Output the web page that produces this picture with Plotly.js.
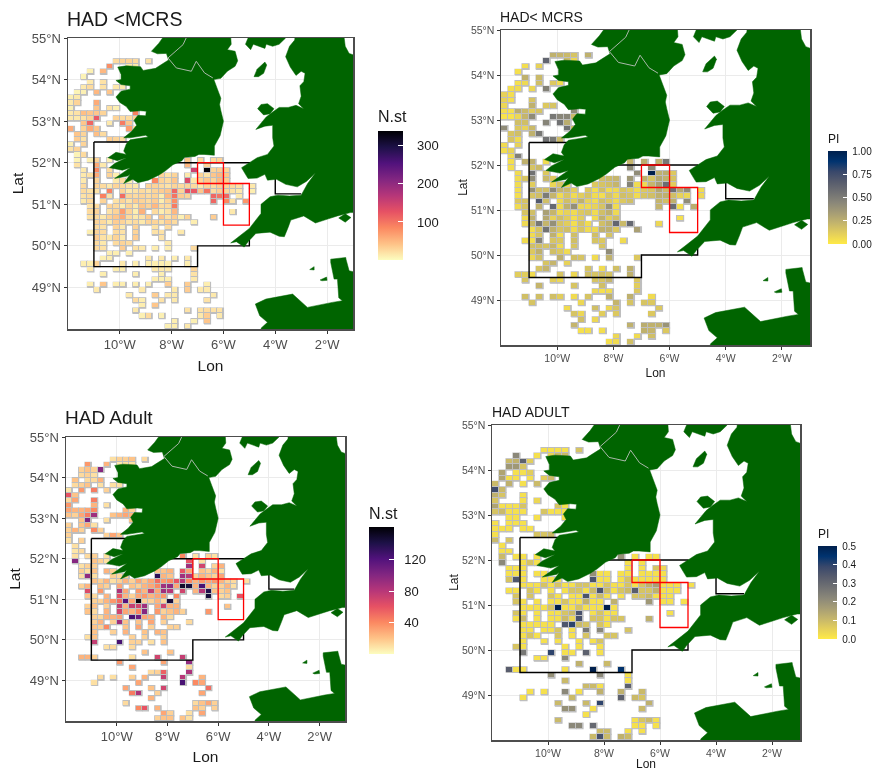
<!DOCTYPE html>
<html><head><meta charset="utf-8">
<script src="https://cdn.plot.ly/plotly-3.0.1.min.js"></script>
<style>html,body{margin:0;padding:0;background:#fff}#c{width:872px;height:771px;filter:blur(.4px)}</style>
</head><body><div id="c"></div>
<script>
// Grid: 0.25 x 0.125 degree cells. Each row string lists "column:value"; first string is row 4 counted down from 55N.
const nstJuv = ["7:25 8:30 9:30 10:25 12:20","6:80 9:15 10:15","3:10 5:50","2:8","3:15 5:20","2:15 3:25 5:20 7:15 8:15","1:8 2:10 4:50 6:40","0:10 1:15","0:15 1:30 4:60","0:10 4:40 6:20 7:10","0:15 1:20 2:45 3:40 4:40 5:30 10:90","0:15 1:15 2:20 3:30 4:120 7:30 8:25 9:25 10:30","2:40 3:110 6:15 8:95 9:40","0:60 2:30 3:60 4:40 9:70 10:20","1:40 2:30 4:45 5:25","1:35 2:20 6:35 7:30 8:25","0:10 2:30","0:20 1:30","1:8 2:25","1:8 3:10 4:30 6:10 18:40 20:25 22:25 23:30","1:20 4:60 5:15 18:50 21:30","2:15 4:85 6:25 19:150 21:345 22:30 23:35 24:30","2:15 3:20 4:60 6:30 7:12 14:30 15:20 16:30 18:15 20:30 21:20 22:40 23:50 24:40","2:15 4:30 7:15 8:25 9:10 13:85 14:30 15:25 16:40 18:135 19:15 20:30 21:40 22:30 23:50 24:35","2:25 4:30 5:25 6:15 7:30 8:25 9:20 10:15 12:30 13:30 14:25 15:20 16:30 17:25 18:30 19:25 20:15 21:30 22:25 23:35 24:30 25:25 26:20 28:15","2:25 3:20 4:20 6:90 8:30 9:15 10:20 11:25 12:20 13:30 14:35 15:40 16:110 17:30 18:130 19:120 20:40 21:100 22:25 23:35 24:30 25:20 26:15 28:12","2:20 3:25 5:90 6:20 8:105 9:30 10:25 11:30 12:25 13:30 14:12 15:50 16:100 17:35 18:30 22:110 23:100 24:110 26:15","2:15 3:25 5:30 7:20 8:30 9:20 10:35 11:30 12:25 13:35 14:12 15:30 16:80 22:110 24:85 25:20 27:75","3:20 4:25 6:30 7:25 8:12 9:30 10:15 11:40 12:30 13:50 14:25 15:25 16:95","3:25 4:30 6:20 7:30 8:70 9:30 10:12 11:55 13:25 14:12 15:20 16:50 25:15","3:20 4:25 5:15 6:30 7:40 8:60 9:25 10:15 11:20 12:35 14:40 15:20 16:35 17:10 18:30 22:35","4:30 5:25 6:15 7:35 8:30 9:20 10:25 11:15 12:30 13:30 14:20 15:35 16:25 19:12","4:25 5:20 7:30 8:15 10:30 13:20 15:25","3:12 4:30 5:25 7:25 8:20 10:30 13:20 14:20 17:15","4:35 5:20 6:15 7:30 8:15 10:35 14:20","4:25 5:15 7:25 8:30 9:25 15:15","4:25 5:20 8:35 10:20 11:15 13:12 15:12 19:25","6:12 7:12 9:12","5:10 6:12 12:15 14:15 16:12 18:15","2:12 3:12 4:30 8:15 10:12 12:12 13:12 14:12 15:12 18:12","3:15 7:12 8:12 13:15 14:15 15:15 19:30","5:12 10:12 14:12 19:20","13:12 14:10 15:12 19:15","3:12 5:40 7:12 8:12 10:12 12:12 15:35 18:35 21:12","4:15 11:15 16:15 18:35 20:15 21:15","9:15 13:35 15:15 16:15 22:15","10:25 11:12 14:20 16:15 21:20","11:12 13:40","10:15 18:20 20:20 21:25 22:20 23:20","11:10 12:25 14:10 20:15 21:35 23:15","16:12 19:10 21:40","15:10 16:12 18:15"];
const piJuv = ["7:24 8:22 9:20 10:16 12:24","6:62 9:20 10:8","3:5 5:10","2:4","3:24 5:20","2:4 3:7 5:18 7:14 8:6","1:5 2:6 4:8 6:48","0:10 1:5","0:10 1:5 4:16","0:8 4:24 6:14 7:16","0:5 1:4 2:26 3:20 4:12 5:16 10:42","0:3 1:3 2:8 3:22 4:42 7:52 8:45 9:45 10:20","2:18 3:18 6:46 8:55 9:26","0:42 2:14 3:10 4:20 9:55 10:18","1:16 2:18 4:24 5:52","1:16 2:6 6:55 7:52 8:20","0:6 2:10","0:5 1:10","1:6 2:48","1:5 3:24 4:24 6:6 18:22 20:26 22:24 23:52","1:5 4:16 5:20 18:42 21:42","2:6 4:55 6:14 19:42 21:100 22:24 23:26 24:14","2:6 3:16 4:42 6:20 7:14 14:18 15:20 16:22 18:36 20:24 21:16 22:28 23:24 24:16","2:6 4:12 7:8 8:16 9:8 13:14 14:16 15:18 16:22 18:46 19:6 20:7 21:22 22:32 23:58 24:12","2:5 4:40 5:18 6:18 7:44 8:22 9:20 10:12 12:14 13:5 14:18 15:6 16:7 17:16 18:12 19:6 20:14 21:16 22:28 23:20 24:56 25:28 26:42 28:6","2:5 4:16 5:18 6:50 7:22 8:6 9:16 10:6 11:12 12:16 13:6 14:5 15:16 16:7 17:18 18:16 19:6 20:16 21:18 22:24 23:24 24:18 25:10 26:8 28:8","2:14 3:16 5:68 6:18 8:7 9:18 10:12 11:24 12:10 13:6 14:18 15:14 16:7 17:14 18:18 22:22 23:18 24:24 26:42","2:6 3:16 5:24 7:60 8:6 9:24 10:40 11:8 12:7 13:10 14:16 15:38 16:6 22:22 24:58 25:4 27:26","3:16 4:18 6:32 7:22 8:6 9:10 10:6 11:14 12:16 13:6 14:18 15:24 16:7","3:6 4:24 6:28 7:10 8:18 9:12 10:5 11:12 13:6 14:24 15:12 16:18 25:4","3:7 4:22 5:52 6:22 7:40 8:16 9:12 10:5 11:16 12:6 14:18 15:24 16:62 17:20 18:60 22:8","4:5 5:16 6:55 7:24 8:16 9:18 10:6 11:16 12:6 13:7 14:24 15:24 16:14 19:32","4:6 5:16 7:24 8:5 10:18 13:18 15:16","3:6 4:5 5:46 7:16 8:14 10:18 13:16 14:14 17:6","4:18 5:18 6:16 7:22 8:6 10:16 14:16","4:14 5:24 7:18 8:14 9:6 15:42","4:8 5:18 8:24 10:18 11:16 13:6 15:24 19:14","6:16 7:22 9:10","5:16 6:22 12:16 14:6 16:18 18:24","2:12 3:12 4:6 8:16 10:8 12:18 13:16 14:18 15:16 18:24","3:16 7:12 8:8 13:16 14:16 15:22 19:14","5:22 10:16 14:18 19:12","13:8 14:4 15:6 19:14","3:18 5:18 7:18 8:12 10:6 12:16 15:24 18:24 21:6","4:16 11:8 16:22 18:16 20:16 21:14","9:6 13:18 15:8 16:16 22:14","10:16 11:8 14:12 16:14 21:14","11:18 13:8","10:22 18:24 20:26 21:24 22:24 23:38","11:4 12:5 14:5 20:24 21:22 23:14","16:8 19:6 21:18","15:4 16:6 18:18"];
const nstAdu = ["7:10 8:15 9:15 10:20 12:12","3:35 6:25 8:8 9:10 10:10","2:15 3:20 4:15 5:100","2:12 3:15 4:10","1:20 3:12 4:12 5:25","1:12 2:15 3:20 5:10 7:10 8:10","0:8 2:35 4:45 6:15","0:60 1:20","0:12 1:30 4:45","0:35 4:25 6:10","0:30 1:25 2:25 3:30 4:40 9:25 10:15","0:20 1:15 2:30 3:45 4:90 7:20 8:25 9:30 10:25","2:20 3:105 6:10 10:20","0:15 2:20 3:30 4:10","0:15 1:25 2:15 4:40 5:15","0:15 6:15 7:30 8:20","0:10 2:15","1:10","1:8 2:12","1:10 3:12 4:15 6:10 18:40 20:10 22:15 23:10","1:100 4:20 5:15 6:10 19:60 21:10","2:10 3:15 4:15 19:90 21:70 23:15 24:25","2:15 3:10 4:20 6:25 7:15 14:20 15:20 16:25 18:60 19:30 21:20 22:15 23:25 24:10","2:10 3:95 4:10 7:15 8:12 9:15 14:135 15:25 16:20 18:90 19:80 20:15 21:25 22:20 23:15 24:30","4:20 5:15 6:25 7:10 8:15 9:25 10:15 11:30 12:20 13:30 14:50 15:35 16:40 17:60 18:80 19:40 20:25 21:35 22:30 23:35 24:25 25:15 26:12 28:10","2:15 3:25 5:20 6:15 8:30 10:20 11:15 12:25 13:30 14:40 15:90 16:95 17:30 18:150 19:145 20:25 21:125 22:25 23:15 24:15 25:25 26:10","3:65 5:35 8:85 9:30 11:35 12:25 13:75 14:30 15:90 16:80 18:70 20:25 21:80 22:140 23:20 24:15 25:20","3:20 4:12 6:25 8:60 9:25 10:15 11:30 12:35 13:25 14:30 15:35 17:40 22:145 24:12 25:15 27:60","4:15 5:15 6:25 7:35 8:50 9:120 10:30 11:160 12:15 13:15 14:25 15:12 16:145 17:15","3:15 4:20 6:15 8:75 9:25 10:75 11:70 12:90 14:30 15:70 16:25 17:25 25:20","3:20 4:12 6:25 8:70 9:30 10:25 11:40 12:100 14:35 15:15 16:20 17:25 18:15 22:35","4:15 5:12 6:25 7:25 8:30 10:125 11:110 12:30 13:25 15:25 16:12","4:15 5:25 7:15 8:90 9:20 11:20 13:30 15:15 19:12","4:20 5:15 6:40 9:20 11:30 13:15 16:15 17:15","4:20 7:15 9:25 12:20 14:25 15:20","3:10 4:20 10:15 12:15 15:15","4:75 8:125 10:15 11:15 13:10 15:20","6:10 7:12 10:12","12:20 16:20","2:25 3:25 4:15 10:10 14:70 18:75","8:35 15:30 19:95","10:30 19:12","13:12 14:15 15:55 19:85","5:12 7:10 10:15 12:25 15:75 18:80 21:25","4:10 11:30 18:125 20:40 21:30","9:30 13:20 15:70 22:50","10:45 11:85 14:15 21:30","13:25","9:12 20:12 21:20 22:30 23:15","11:40 12:60 14:25 20:20 21:15 23:15","15:30 16:15 19:10 21:30","14:15 15:20 16:20 18:20 19:10"];
const piAdu = ["7:2 8:2 9:2 10:2 12:8","3:22 6:2 8:5 9:10 10:10","2:10 3:12 4:32 5:6","2:18 3:18 4:8","1:15 3:2 4:2 5:6","1:15 2:2 3:2 5:2 7:6 8:10","0:10 2:12 4:2 6:10","0:38 1:10","0:12 1:8 4:2","0:8 4:2 6:4","0:15 1:2 2:2 3:2 4:8 9:8 10:2","0:8 1:10 2:2 3:2 4:2 7:8 8:2 9:2 10:2","2:2 3:2 6:2 10:2","0:2 2:2 3:2 4:2","0:2 1:2 2:2 4:2 5:2","0:2 6:8 7:8 8:10","0:10 2:8","1:2","1:2 2:2","1:10 3:2 4:2 6:2 18:20 20:2 22:2 23:2","1:22 4:2 5:8 6:2 19:2 21:2","2:2 3:2 4:2 19:2 21:2 23:8 24:4","2:2 3:2 4:2 6:2 7:2 14:20 15:2 16:2 18:2 19:2 21:2 22:2 23:2 24:2","2:8 3:35 4:2 7:2 8:2 9:2 14:36 15:2 16:2 18:2 19:8 20:2 21:2 22:2 23:2 24:2","4:2 5:2 6:2 7:8 8:2 9:8 10:2 11:2 12:8 13:8 14:2 15:2 16:8 17:2 18:2 19:8 20:2 21:8 22:12 23:16 24:2 25:2 26:2 28:2","2:2 3:2 5:8 6:2 8:2 10:2 11:8 12:8 13:2 14:10 15:36 16:10 17:2 18:8 19:10 20:33 21:8 22:8 23:12 24:2 25:2 26:2","3:8 5:8 8:8 9:2 11:2 12:2 13:36 14:2 15:10 16:2 18:2 20:8 21:8 22:10 23:2 24:2 25:2","3:8 4:2 6:2 8:2 9:2 10:8 11:2 12:2 13:12 14:2 15:2 17:12 22:18 24:2 25:2 27:2","4:2 5:2 6:2 7:2 8:8 9:50 10:2 11:2 12:8 13:2 14:2 15:2 16:50 17:2","3:8 4:2 6:2 8:2 9:2 10:8 11:10 12:36 14:2 15:8 16:2 17:2 25:2","3:2 4:10 6:2 8:2 9:2 10:10 11:4 12:36 14:8 15:8 16:2 17:8 18:8 22:12","4:2 5:2 6:2 7:2 8:2 10:35 11:40 12:10 13:8 15:8 16:2","4:2 5:2 7:2 8:2 9:8 11:2 13:26 15:22 19:8","4:2 5:8 6:2 9:8 11:2 13:8 16:8 17:8","4:2 7:2 9:2 12:2 14:2 15:8","3:8 4:2 10:2 12:2 15:2","4:26 8:40 10:2 11:2 13:32 15:2","6:2 7:2 10:22","12:12 16:10","2:33 3:2 4:2 10:2 14:50 18:45","8:20 15:22 19:2","10:10 19:2","13:10 14:10 15:2 19:32","5:2 7:2 10:22 12:2 15:12 18:12 21:10","4:2 11:10 18:32 20:10 21:8","9:10 13:10 15:40 22:12","10:20 11:20 14:2 21:10","13:2","9:10 20:2 21:8 22:10 23:2","11:22 12:22 14:30 20:2 21:2 23:2","15:10 16:10 19:2 21:2","14:10 15:36 16:10 18:12 19:10"];

const lonTicks = [-10,-8,-6,-4,-2];
const lonLabels = ['10°W','8°W','6°W','4°W','2°W'];
const latTicks = [49,50,51,52,53,54,55];
const latLabels = ['49°N','50°N','51°N','52°N','53°N','54°N','55°N'];

const ireland = [[-8.33,55.3],[-8.35,55],[-8.5,54.87],[-8.78,54.68],[-8.55,54.62],[-8.2,54.63],[-8.12,54.47],[-8.5,54.32],[-8.62,54.27],[-9.1,54.22],[-9.2,54.31],[-9.75,54.33],[-10.08,54.3],[-9.95,54.12],[-9.95,54],[-10.15,53.98],[-9.95,53.88],[-9.6,53.85],[-9.6,53.77],[-9.95,53.72],[-10.15,53.58],[-10,53.45],[-9.75,53.35],[-9.6,53.23],[-9.2,53.25],[-8.98,53.24],[-9,53.13],[-9.3,53.14],[-9.45,53.02],[-9.35,52.9],[-9.55,52.75],[-9.85,52.6],[-9.6,52.6],[-9,52.66],[-8.9,52.62],[-9.3,52.58],[-9.6,52.55],[-9.75,52.45],[-9.85,52.28],[-9.75,52.2],[-10.15,52.25],[-10.45,52.12],[-10.1,52.05],[-9.75,52.12],[-10.2,51.98],[-10.4,51.88],[-9.9,51.82],[-9.6,51.88],[-10.2,51.62],[-9.7,51.68],[-9.6,51.72],[-9.85,51.5],[-9.5,51.6],[-9.3,51.52],[-8.9,51.58],[-8.5,51.7],[-8.25,51.8],[-7.95,51.95],[-7.6,52.05],[-7.5,52.13],[-7.1,52.15],[-6.95,52.2],[-6.75,52.2],[-6.35,52.18],[-6.35,52.4],[-6.13,52.65],[-6,53],[-6.1,53.25],[-6.15,53.4],[-6.1,53.55],[-6.25,53.8],[-6.37,54],[-6.1,54.03],[-5.85,54.2],[-5.55,54.32],[-5.45,54.45],[-5.55,54.68],[-5.85,54.72],[-5.7,54.85],[-5.75,55.3]];
const scotland = [[-5.13,55.3],[-5.05,55],[-5.15,54.85],[-4.95,54.72],[-4.85,54.85],[-4.4,54.75],[-4.35,54.85],[-4.1,54.8],[-3.85,54.85],[-3.6,55],[-3.6,55.3]];
const britain = [[-3.2,55.3],[-3.25,54.95],[-3.45,54.8],[-3.6,54.55],[-3.42,54.3],[-3.2,54.1],[-3,54.2],[-2.85,54.15],[-2.9,53.95],[-3.05,53.85],[-3,53.6],[-3.1,53.42],[-2.9,53.3],[-3.2,53.38],[-3.5,53.33],[-3.85,53.33],[-4.1,53.22],[-4.35,53.1],[-4.75,52.8],[-4.4,52.88],[-4.1,52.9],[-4.1,52.6],[-4.05,52.4],[-4.3,52.2],[-4.7,52.12],[-5,52],[-5.3,51.88],[-5.15,51.72],[-5.05,51.62],[-4.7,51.63],[-4.4,51.72],[-4.3,51.58],[-3.95,51.6],[-3.6,51.48],[-3.15,51.42],[-2.8,51.55],[-2.45,51.75],[-2.75,51.5],[-3,51.22],[-3.45,51.2],[-3.9,51.22],[-4.2,51.18],[-4.55,51],[-4.55,50.78],[-5,50.42],[-5.45,50.2],[-5.72,50.07],[-5.5,50.1],[-5.2,49.97],[-5.05,50.1],[-4.75,50.3],[-4.2,50.33],[-3.85,50.23],[-3.65,50.22],[-3.5,50.45],[-3.4,50.62],[-2.9,50.72],[-2.45,50.55],[-1.95,50.65],[-1.6,50.72],[-1.1,50.8],[-0.8,50.8],[-0.8,54.55],[-1.15,54.63],[-1.3,54.8],[-1.4,55.3]];
const man = [[-4.82,54.07],[-4.7,54.25],[-4.4,54.42],[-4.33,54.35],[-4.45,54.15],[-4.65,54.07]];
const anglesey = [[-4.68,53.3],[-4.55,53.4],[-4.3,53.42],[-4.05,53.3],[-4.2,53.18],[-4.45,53.15]];
const wight = [[-1.55,50.67],[-1.3,50.77],[-1.08,50.68],[-1.3,50.57]];
const guernsey = [[-2.67,49.43],[-2.5,49.5],[-2.5,49.42]];
const jersey = [[-2.27,49.18],[-2.02,49.25],[-2,49.17],[-2.2,49.16]];
const france = [[-4.4,47.7],[-4.55,48.02],[-4.3,48.16],[-4.6,48.32],[-4.77,48.6],[-4.36,48.72],[-3.33,48.84],[-2.76,48.52],[-1.8,48.64],[-1.41,48.68],[-1.55,48.75],[-1.6,49.2],[-1.73,49.2],[-1.86,49.6],[-1.86,49.68],[-1.28,49.72],[-1.27,49.68],[-1.15,49.4],[-0.8,49.35],[-0.8,47.7]];
const niBorder = [[-7.44,55],[-7.56,54.84],[-8.14,54.52],[-7.82,54.28],[-7.24,54.2],[-7.05,54.44],[-6.73,54.16],[-6.41,54.04]];
const blackBox = [[-11,52.5],[-9,52.5],[-9,52],[-5,52],[-5,51.7],null,[-4,51.7],[-4,51.25],[-3,51.25],null,[-5,50.15],[-5,50],[-7,50],[-7,49.5],[-11,49.5],[-11,52.5]];
const redBox = [[-7,52],[-6,52],[-6,51.5],[-5,51.5],[-5,50.5],[-6,50.5],[-6,51.5],[-7,51.5],[-7,52]];
const landParts = [ireland,scotland,britain,man,anglesey,wight,guernsey,jersey,france];

const magma = [[0,'#FCFDBF'],[.125,'#FEC287'],[.25,'#FB8861'],[.375,'#E65164'],[.5,'#B63679'],[.625,'#822681'],[.75,'#51127C'],[.875,'#1D1147'],[1,'#000004']];
const cividis = [[0,'#FFEA46'],[.111,'#E4CF5B'],[.222,'#C4B56C'],[.333,'#A69D75'],[.444,'#8A8779'],[.556,'#707173'],[.667,'#575C6D'],[.778,'#39486B'],[.889,'#00336F'],[1,'#00204D']];

const W=872,H=771, nCols=29, nRows=56, dLon=.25, dLat=.125;
const lons = Array.from({length:nCols},(_,c)=>-12+dLon*(c+.5));
const lats = Array.from({length:nRows},(_,r)=>48+dLat*(r+.5));
function matrix(rows,scale){
  const z = lats.map(()=>lons.map(()=>null));
  rows.forEach((s,i)=>{ const k=i+4; s.split(' ').forEach(t=>{const [c,v]=t.split(':'); z[nRows-1-k][+c]=(+v)*scale;}); });
  return z;
}
function xy(list){const x=[],y=[];list.forEach(p=>{if(p){x.push(p[0]);y.push(p[1]);}else{x.push(null);y.push(null);}});return [x,y];}
const [bx,by]=xy(blackBox),[rx,ry]=xy(redBox),[nx,ny]=xy(niBorder);
function outlines(z){const x=[],y=[];z.forEach((r,j)=>r.forEach((v,i)=>{if(v===null)return;const a=lons[i]-dLon/2,b=lons[i]+dLon/2,c=lats[j]-dLat/2,d=lats[j]+dLat/2;x.push(a,b,b,a,a,null);y.push(c,c,d,d,c,null);}));return [x,y];}

const panels=[
 {rows:nstJuv,scale:1,cs:magma,zmin:1,zmax:337,L:68,R:353,T:38,B:329,title:'HAD &lt;MCRS',tx:65,ty:19,ts:19.5,tick:13,ax:15.5,sx:9,sy:4,
  cb:{x:376,y:131,bx:378,w:25,h:129,title:'N.st',tty:116,ts:16,fs:13,vals:[100,200,300],txt:['100','200','300'],pad:'\u00A0\u00A0\u00A0'}},
 {rows:piJuv,scale:.01,cs:cividis,zmin:0,zmax:1,L:501,R:810,T:30,B:345,title:'HAD&lt; MCRS',tx:498,ty:17,ts:14,tick:10.5,ax:12,sx:5,sy:0,
  cb:{x:826,y:151,bx:828,w:19,h:93,title:'PI',tty:139,ts:12,fs:10,vals:[0,.25,.5,.75,1],txt:['0.00','0.25','0.50','0.75','1.00'],pad:'\u00A0'}},
 {rows:nstAdu,scale:1,cs:magma,zmin:0,zmax:162,L:66,R:345,T:437,B:721,title:'HAD Adult',tx:63,ty:418,ts:19,tick:13,ax:15.5,sx:8,sy:5,
  cb:{x:367,y:527,bx:369,w:25,h:127,title:'N.st',tty:513,ts:16,fs:13,vals:[40,80,120],txt:['40','80','120'],pad:'\u00A0\u00A0'}},
 {rows:piAdu,scale:.01,cs:cividis,zmin:0,zmax:.5,L:492,R:800,T:425,B:740,title:'HAD ADULT',tx:490,ty:412,ts:14,tick:10.5,ax:12,sx:10,sy:0,
  cb:{x:816,y:546,bx:818,w:19,h:93,title:'PI',tty:534,ts:12,fs:10,vals:[0,.1,.2,.3,.4,.5],txt:['0.0','0.1','0.2','0.3','0.4','0.5'],pad:'\u00A0'}}
];
const font='"Liberation Sans",Arial,sans-serif';
const data=[],layout={width:W,height:H,margin:{l:0,r:0,t:0,b:0,autoexpand:false},paper_bgcolor:'#fff',plot_bgcolor:'#fff',showlegend:false,font:{family:font},annotations:[]};
panels.forEach((p,i)=>{
  const n=i+1, sfx=n>1?n:'', xa='x'+sfx, ya='y'+sfx;
  const m=n+4, xo='x'+m, yo='y'+m; // overlay axes so the cells and land stack above the grey tile edges
  const z=matrix(p.rows,p.scale);
  const [ox,oy]=outlines(z);
  data.push({type:'scatter',mode:'lines',x:ox,y:oy,xaxis:xa,yaxis:ya,fill:'toself',fillcolor:'#BEBEBE',line:{color:'#BEBEBE',width:1.2,simplify:false},hoverinfo:'skip'});
  data.push({type:'heatmap',x:lons,y:lats,z:z,xaxis:xo,yaxis:yo,xgap:1,ygap:1,zmin:p.zmin,zmax:p.zmax,colorscale:p.cs,hoverinfo:'skip',
    colorbar:{x:p.cb.bx/W,xanchor:'left',xpad:0,y:1-p.cb.y/H,yanchor:'top',ypad:0,len:p.cb.h,lenmode:'pixels',thickness:p.cb.w,thicknessmode:'pixels',outlinewidth:0,
      tickmode:'array',tickvals:p.cb.vals,ticktext:p.cb.txt.map(s=>p.cb.pad+s),ticks:'inside',ticklen:p.cb.w>20?5:4,tickcolor:'#fff',tickwidth:1,tickfont:{size:p.cb.fs,color:'#1a1a1a',family:font}}});
  data.push({type:'scatter',mode:'lines',x:bx,y:by,xaxis:xo,yaxis:yo,line:{color:'#000',width:1.4,simplify:false},hoverinfo:'skip'});
  landParts.forEach(part=>{
    const [lx,ly]=xy(part.concat([part[0]]));
    data.push({type:'scatter',mode:'lines',x:lx,y:ly,xaxis:xo,yaxis:yo,fill:'toself',fillcolor:'#006400',line:{color:'#006400',width:.5,simplify:false},hoverinfo:'skip'});
  });
  data.push({type:'scatter',mode:'lines',x:nx,y:ny,xaxis:xo,yaxis:yo,line:{color:'#a9b8a9',width:1,simplify:false},hoverinfo:'skip'});
  data.push({type:'scatter',mode:'lines',x:rx,y:ry,xaxis:xo,yaxis:yo,line:{color:'#FF0000',width:1.3,simplify:false},hoverinfo:'skip'});
  const common={showline:true,mirror:true,linecolor:'#4d4d4d',linewidth:1.5,showgrid:true,gridcolor:'#EBEBEB',gridwidth:1,zeroline:false,ticks:'outside',ticklen:3,tickcolor:'#333',tickwidth:1,fixedrange:true,tickmode:'array',
    tickfont:{size:p.tick,color:'#4D4D4D',family:font}};
  const xDom=[p.L/W,p.R/W], yDom=[1-p.B/H,1-p.T/H];
  layout['xaxis'+sfx]=Object.assign({},common,{domain:xDom,anchor:ya,range:[-12,-1],tickvals:lonTicks,ticktext:lonLabels,
    title:{text:'Lon',font:{size:p.ax,color:'#1a1a1a',family:font},standoff:p.sx}});
  layout['yaxis'+sfx]=Object.assign({},common,{domain:yDom,anchor:xa,range:[48,55],tickvals:latTicks,ticktext:latLabels,
    title:{text:'Lat',font:{size:p.ax,color:'#1a1a1a',family:font},standoff:p.sy}});
  layout['xaxis'+m]={domain:xDom,anchor:yo,overlaying:xa,range:[-12,-1],visible:false,fixedrange:true};
  layout['yaxis'+m]={domain:yDom,anchor:xo,overlaying:ya,range:[48,55],visible:false,fixedrange:true};
  layout.annotations.push({xref:'paper',yref:'paper',x:p.tx/W,y:1-p.ty/H,xanchor:'left',yanchor:'middle',showarrow:false,text:p.title,font:{size:p.ts,color:'#1a1a1a',family:font}});
  layout.annotations.push({xref:'paper',yref:'paper',x:p.cb.x/W,y:1-p.cb.tty/H,xanchor:'left',yanchor:'middle',showarrow:false,text:p.cb.title,font:{size:p.cb.ts,color:'#1a1a1a',family:font}});
});
Plotly.newPlot('c',data,layout,{displayModeBar:false,staticPlot:true});
</script>
</body></html>
